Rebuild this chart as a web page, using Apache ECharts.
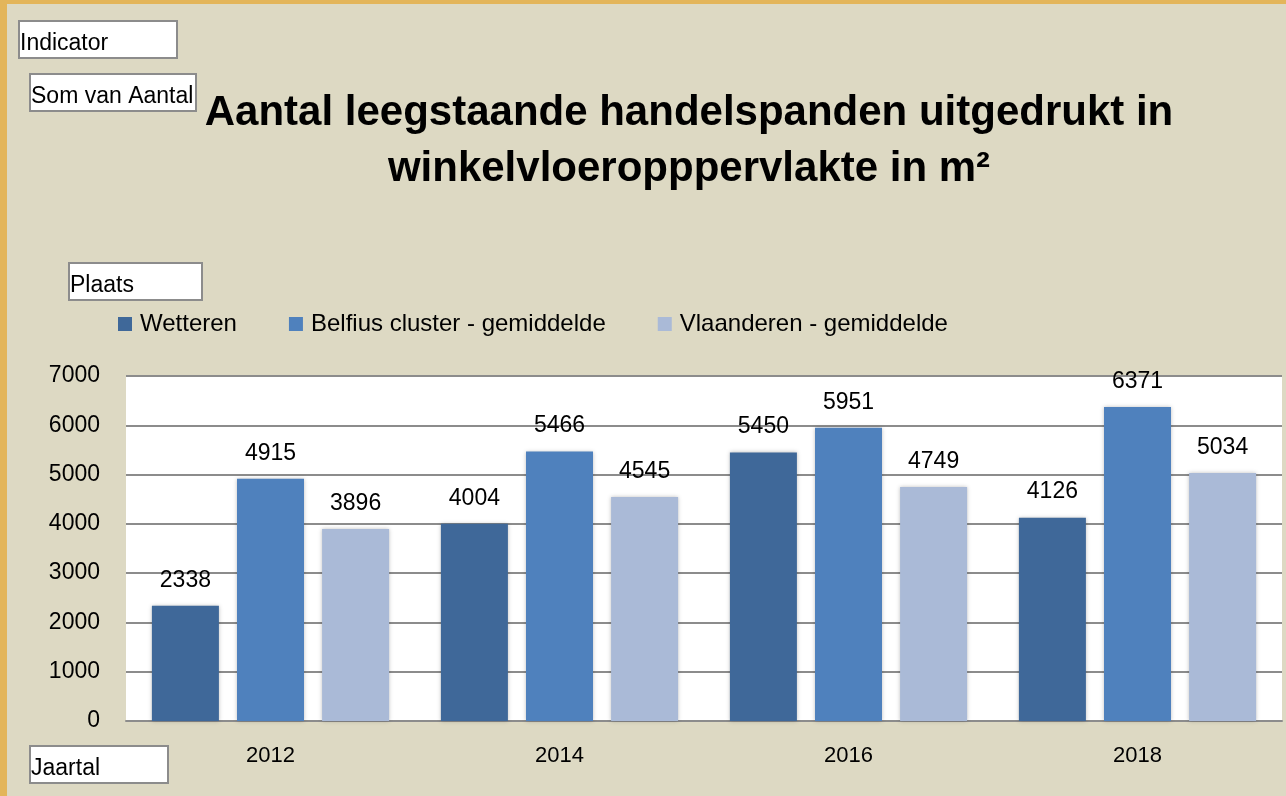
<!DOCTYPE html>
<html>
<head>
<meta charset="utf-8">
<script src="https://cdn.jsdelivr.net/npm/echarts@6/dist/echarts.min.js"></script>
<style>
  html, body { margin: 0; padding: 0; background: #ddd9c3; }
  #chart { width: 1286px; height: 796px; }
</style>
</head>
<body>
<div id="chart"></div>
<script>
// jaartallen en waarden
var years = ['2012', '2014', '2016', '2018'];
var wetteren = [2338, 4004, 5450, 4126];
var belfius = [4915, 5466, 5951, 6371];
var vlaanderen = [3896, 4545, 4749, 5034];
var seriesNames = ['Wetteren', 'Belfius cluster - gemiddelde', 'Vlaanderen - gemiddelde'];
var yTicks = [0, 1000, 2000, 3000, 4000, 5000, 6000, 7000];

var font = 'Liberation Sans';
var chart = echarts.init(document.getElementById('chart'));

// witte veldknoppen van de draaitabel
function fieldBox(x, y, w, h, label) {
  return {
    type: 'group',
    left: x,
    top: y,
    children: [
      { type: 'rect', shape: { x: 0, y: 0, width: w, height: h },
        style: { fill: '#fff', stroke: '#8c8c8c', lineWidth: 2 } },
      { type: 'text', x: 1, y: h - 3,
        style: { text: label, fill: '#000', font: '23px ' + font, textVerticalAlign: 'bottom' } }
    ]
  };
}

function barSeries(name, data, color) {
  return {
    name: name,
    type: 'bar',
    data: data,
    barWidth: 67,
    barGap: '27%',
    itemStyle: {
      color: color,
      shadowColor: 'rgba(0,0,0,0.25)',
      shadowBlur: 4
    },
    label: {
      show: true,
      position: 'top',
      distance: 14,
      color: '#000',
      fontSize: 23,
      fontFamily: font
    }
  };
}

var option = {
  backgroundColor: '#ddd9c3',
  animation: false,
  title: {
    text: 'Aantal leegstaande handelspanden uitgedrukt in\nwinkelvloeropppervlakte in m²',
    left: 684,
    top: 80,
    textAlign: 'center',
    textStyle: {
      fontFamily: font,
      fontSize: 42,
      fontWeight: 'bold',
      color: '#000',
      lineHeight: 56
    }
  },
  legend: {
    data: seriesNames,
    left: 113,
    top: 307,
    icon: 'rect',
    itemWidth: 14,
    itemHeight: 14,
    itemGap: 52,
    textStyle: { fontFamily: font, fontSize: 24, color: '#000', padding: [0, 0, 0, 3] }
  },
  grid: {
    left: 126,
    right: 4,
    top: 376,
    bottom: 75,
    show: true,
    backgroundColor: '#ffffff',
    borderWidth: 0
  },
  xAxis: {
    type: 'category',
    data: years,
    axisTick: { show: false },
    axisLine: { lineStyle: { color: '#8c8c8c', width: 2 } },
    axisLabel: { fontFamily: font, fontSize: 22, color: '#000', margin: 24 }
  },
  yAxis: {
    type: 'value',
    min: yTicks[0],
    max: yTicks[yTicks.length - 1],
    interval: 1000,
    axisLine: { show: false },
    axisTick: { show: false },
    splitLine: { lineStyle: { color: '#8c8c8c', width: 2 } },
    axisLabel: {
      fontFamily: font, fontSize: 23, color: '#000', margin: 26,
      formatter: function (v) { return String(v); }
    }
  },
  series: [
    barSeries(seriesNames[0], wetteren, '#3f6899'),
    barSeries(seriesNames[1], belfius, '#4f81bd'),
    barSeries(seriesNames[2], vlaanderen, '#aabad7')
  ],
  graphic: [
    // oranje kader links en boven
    { type: 'rect', left: 0, top: 0, shape: { width: 1286, height: 4 }, style: { fill: '#e3b55a' } },
    { type: 'rect', left: 0, top: 0, shape: { width: 7, height: 796 }, style: { fill: '#e3b55a' } },
    fieldBox(18, 20, 158, 37, 'Indicator'),
    fieldBox(29, 73, 166, 37, 'Som van Aantal'),
    fieldBox(68, 262, 133, 37, 'Plaats'),
    fieldBox(29, 745, 138, 37, 'Jaartal')
  ]
};

chart.setOption(option);
</script>
</body>
</html>
